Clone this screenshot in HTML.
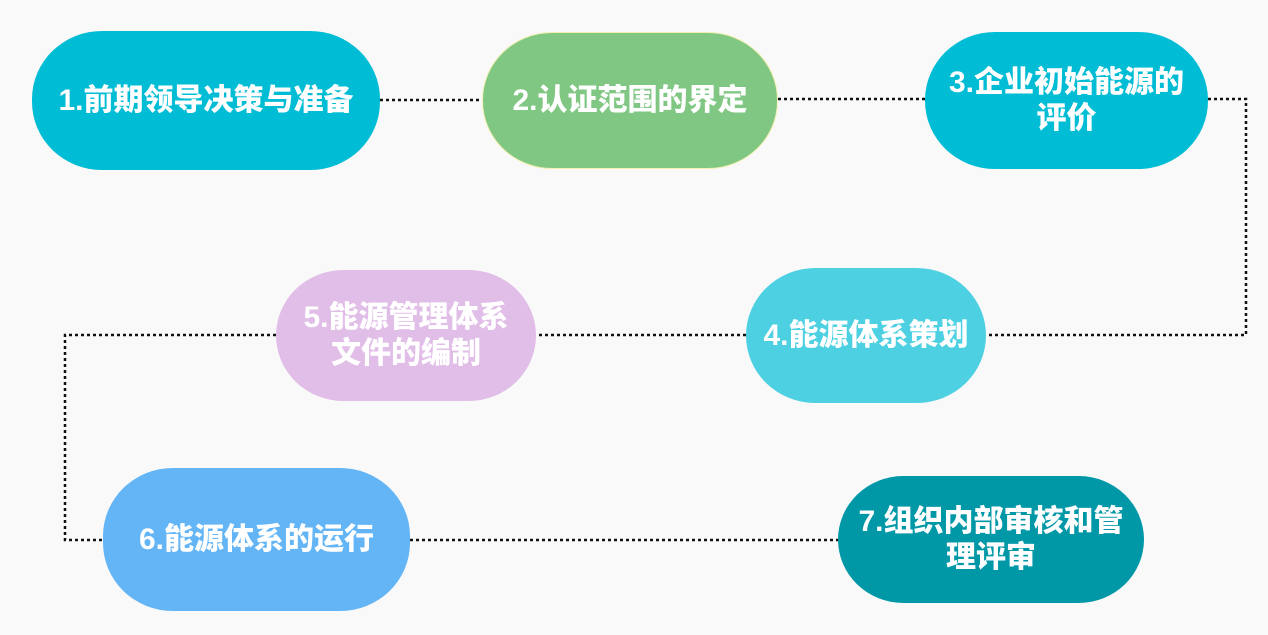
<!DOCTYPE html>
<html><head><meta charset="utf-8"><style>
body{margin:0;width:1268px;height:635px;background:#f9f9f9;position:relative;overflow:hidden;font-family:"Liberation Sans","Noto Sans CJK SC",sans-serif}
.n{position:absolute;display:flex;align-items:center;justify-content:center;text-align:center;color:#fff;font-weight:900;font-size:30px;line-height:36px;border-radius:70px/68px;box-sizing:border-box;white-space:nowrap}
svg{position:absolute;left:0;top:0}
</style></head><body>
<svg width="1268" height="635"><g stroke="#111" stroke-width="2.5" stroke-dasharray="3,3" fill="none">
<path d="M380 100H482"/>
<path d="M778 99H925"/>
<path d="M1208 99H1246V335H986"/>
<path d="M746 335H536"/>
<path d="M276 335H65V540H103"/>
<path d="M410 540H838"/>
</g></svg>
<div class="n" style="left:32px;top:31px;width:348px;height:139px;background:#00bcd4">1.前期领导决策与准备</div>
<div class="n" style="left:482px;top:32px;width:296px;height:137px;background:#81c784;border:1.5px solid #f3f0b0">2.认证范围的界定</div>
<div class="n" style="left:925px;top:32px;width:283px;height:137px;background:#00bcd4">3.企业初始能源的<br>评价</div>
<div class="n" style="left:746px;top:268px;width:240px;height:135px;background:#4dd0e1">4.能源体系策划</div>
<div class="n" style="left:276px;top:270px;width:260px;height:131px;background:#e1bee7">5.能源管理体系<br>文件的编制</div>
<div class="n" style="left:103px;top:468px;width:307px;height:143px;background:#64b5f6">6.能源体系的运行</div>
<div class="n" style="left:838px;top:476px;width:306px;height:127px;background:#0097a7">7.组织内部审核和管<br>理评审</div>
</body></html>
